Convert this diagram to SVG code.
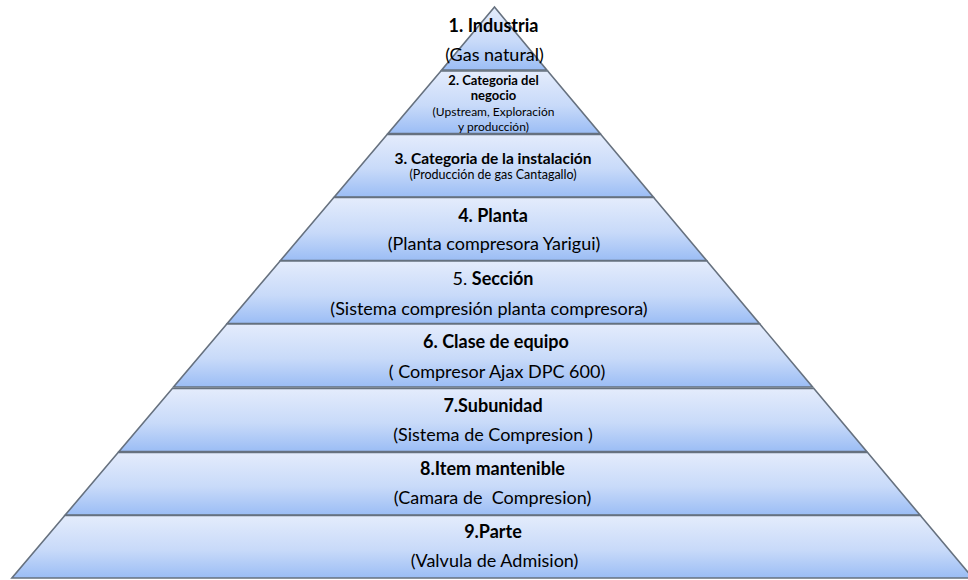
<svg xmlns="http://www.w3.org/2000/svg" width="968" height="580" viewBox="0 0 968 580">
  <defs>
    <linearGradient id="tierFill" x1="0" y1="0" x2="0" y2="1">
      <stop offset="0" stop-color="#e4ecfc"/>
      <stop offset="0.55" stop-color="#c8daf9"/>
      <stop offset="1" stop-color="#9bbdf5"/>
    </linearGradient>
  </defs>
  <style>
    .tier { fill: url(#tierFill); stroke: #66717f; stroke-width: 1.6; stroke-linejoin: miter; }
    text { font-family: Lato, "Liberation Sans", sans-serif; fill: #000; text-anchor: middle; }
    .h { font-size: 18px; font-weight: bold; }
    .r { font-size: 18px; }
    .hs { font-size: 13px; font-weight: bold; }
    .h3 { font-size: 15.5px; font-weight: bold; }
    .rs { font-size: 12.5px; }
    .rs2 { font-size: 12px; }
    .b { font-weight: bold; }
  </style>
  <rect width="968" height="580" fill="#ffffff"/>

  <!-- tier 1: apex -->
  <g id="tier1">
    <polygon class="tier" points="494.5,7 546.8,70 441.7,70"/>
    <text class="h" x="493.5" y="31.5">1. Industria</text>
    <text class="r" x="494.5" y="60.5">(Gas natural)</text>
  </g>

  <g id="tier2">
    <polygon class="tier" points="440.9,71 547.7,71 600.1,133.5 388,133.5"/>
    <text class="hs" x="493.5" y="85">2. Categoria del</text>
    <text class="hs" x="493.5" y="100">negocio</text>
    <text class="rs2" x="493.5" y="116">(Upstream, Exploración</text>
    <text class="rs2" x="493.5" y="130.5">y producción)</text>
  </g>

  <g id="tier3">
    <polygon class="tier" points="387.1,134.5 600.9,134.5 653.3,197 334.3,197"/>
    <text class="h3" x="493" y="164">3. Categoria de la instalación</text>
    <text class="rs" x="493" y="179">(Producción de gas Cantagallo)</text>
  </g>

  <g id="tier4">
    <polygon class="tier" points="333.8,197.5 653.7,197.5 706.6,260.5 280.5,260.5"/>
    <text class="h" x="493" y="221.5">4. Planta</text>
    <text class="r" x="494" y="250">(Planta compresora Yarigui)</text>
  </g>

  <g id="tier5">
    <polygon class="tier" points="280.1,261 707,261 759.4,323.5 227.2,323.5"/>
    <text class="r" x="493" y="285">5. <tspan class="b">Sección</tspan></text>
    <text class="r" x="489" y="314.5">(Sistema compresión planta compresora)</text>
  </g>

  <g id="tier6">
    <polygon class="tier" points="226.8,324 759.8,324 812.6,387 173.5,387"/>
    <text class="h" x="496" y="348">6. Clase de equipo</text>
    <text class="r" x="497" y="378">( Compresor Ajax DPC 600)</text>
  </g>

  <g id="tier7">
    <polygon class="tier" points="172.3,388.5 813.9,388.5 866.7,451.5 119,451.5"/>
    <text class="h" x="493" y="411.5">7.Subunidad</text>
    <text class="r" x="493" y="440.5" xml:space="preserve">(Sistema de Compresion )</text>
  </g>

  <g id="tier8">
    <polygon class="tier" points="118.1,452.5 867.6,452.5 920,515 65.2,515"/>
    <text class="h" x="492.5" y="475">8.Item mantenible</text>
    <text class="r" x="492.5" y="503.5" xml:space="preserve">(Camara de  Compresion)</text>
  </g>

  <g id="tier9">
    <polygon class="tier" points="64.8,515.5 920.4,515.5 972.8,578 11.9,578"/>
    <text class="h" x="493" y="537.5">9.Parte</text>
    <text class="r" x="494.5" y="566.5">(Valvula de Admision)</text>
  </g>
</svg>
